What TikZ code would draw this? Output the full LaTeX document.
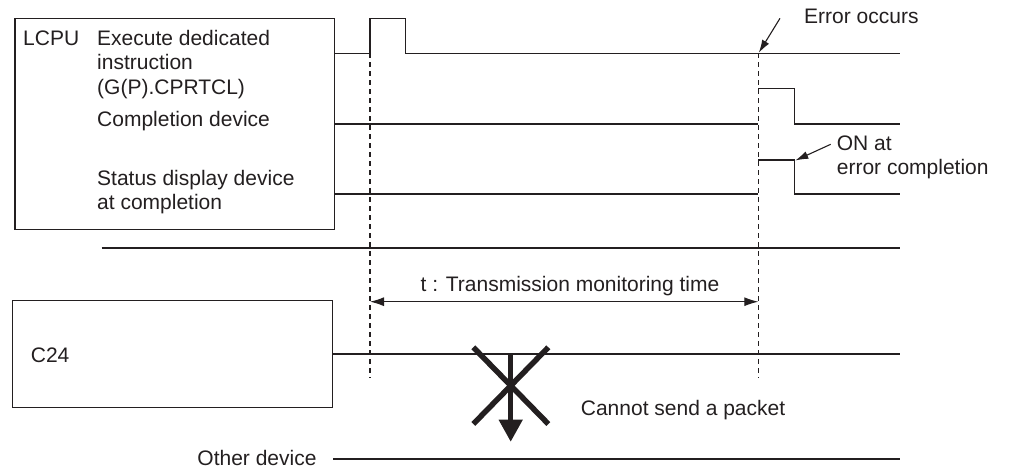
\documentclass[tikz,border=0pt]{standalone}
\usepackage{fontspec}
\setmainfont{Liberation Sans}
\usetikzlibrary{arrows.meta}
\definecolor{ink}{RGB}{35,31,32}
\begin{document}
\begin{tikzpicture}[x=1pt,y=-1pt,
  every node/.style={inner sep=0pt, text=ink, font=\fontsize{21}{24.5}\selectfont},
  lbl/.style={anchor=base west},
  thin/.style={draw=ink, line width=1.1pt},
  thick/.style={draw=ink, line width=2.3pt},
  dashline/.style={draw=ink, line width=1.1pt, dash pattern=on 5pt off 4pt},
  boxstyle/.style={draw=ink, line width=1.1pt, fill=white},
  tip/.style={-{Latex[length=13pt,width=8pt]}},
  dimtip/.style={{Latex[length=14pt,width=9pt]}-{Latex[length=14pt,width=9pt]}},
]
\useasboundingbox (0,0) rectangle (1010,472);

% ---- LCPU block
\draw[boxstyle] (15,18.3) rectangle (334.3,229.3);
\node[lbl] (lcpu) at (23,45.3) {LCPU};
\node[lbl] (ex1) at (97,45.3) {Execute dedicated};
\node[lbl] (ex2) at (97,69.8) {instruction};
\node[lbl] (ex3) at (97,94.3) {(G(P).CPRTCL)};
\node[lbl] (cd) at (97,126) {Completion device};
\node[lbl] (sd1) at (97,185.5) {Status display device};
\node[lbl] (sd2) at (97,209.5) {at completion};

% ---- dashed timing lines
\coordinate (t0top) at (370,53.3);
\coordinate (t0bot) at (370,378.3);
\coordinate (t1top) at (758.3,53.3);
\coordinate (t1bot) at (758.3,378.3);
\draw[dashline] (t0top) -- (t0bot);
\draw[dashline] (t1top) -- (t1bot);

% ---- signal 1: execute instruction
\draw[thin] (334.3,53.3) -- (370,53.3) -- (370,18.3) -- (405.7,18.3) -- (405.7,53.3) -- (900,53.3);
% ---- signal 2: completion device
\draw[thin] (334.3,124) -- (758.3,124);
\draw[thin] (758.3,88.3) -- (794.3,88.3) -- (794.3,124) -- (900,124);
% ---- signal 3: status display device
\draw[thin] (334.3,194) -- (758.3,194);
\coordinate (onpt) at (794.3,160);
\draw[thin] (758.3,160) -- (onpt) -- (794.3,194) -- (900,194);

% ---- annotations
\node[lbl] (err) at (804,23.8) {Error occurs};
\coordinate (errfrom) at (780,18.3);
\coordinate (errto) at (758.8,52.8);
\draw[thin, tip] (errfrom) -- (errto);

\node[lbl] (on1) at (836.7,150.5) {ON at};
\node[lbl] (on2) at (836.7,174.5) {error completion};
\coordinate (onfrom) at (830.7,144.3);
\draw[thin, tip] (onfrom) -- ([xshift=1pt,yshift=-0.5pt]onpt);

% ---- separator
\draw[thick] (101.7,248.3) -- (900,248.3);

% ---- monitoring time
\draw[thin, dimtip] (370,301.7) -- (758.3,301.7);
\node[anchor=base] (tm) at (570,291.7) {t : Transmission monitoring time};

% ---- C24 block
\draw[boxstyle] (12.3,300.7) rectangle (332.3,407.7);
\node[lbl] (c24) at (30.7,362) {C24};
\draw[thick] (332.3,354) -- (900,354);

% ---- cannot send
\coordinate (sendfrom) at (510.7,354);
\coordinate (sendto) at (510.7,441.7);
\draw[draw=ink, line width=4.5pt, -{Triangle[length=22pt,width=23pt]}] (sendfrom) -- (sendto);
\draw[draw=ink, line width=5.5pt] (473.3,347.3) -- (548.3,424);
\draw[draw=ink, line width=5.5pt] (548.3,347.3) -- (473.3,424);
\node[lbl] (cs) at (580.7,415.7) {Cannot send a packet};

% ---- other device
\node[anchor=base east] (od) at (316.7,465.5) {Other device};
\coordinate (odend) at (900,459.3);
\draw[thick] (333,459.3) -- (odend);
\end{tikzpicture}
\end{document}
